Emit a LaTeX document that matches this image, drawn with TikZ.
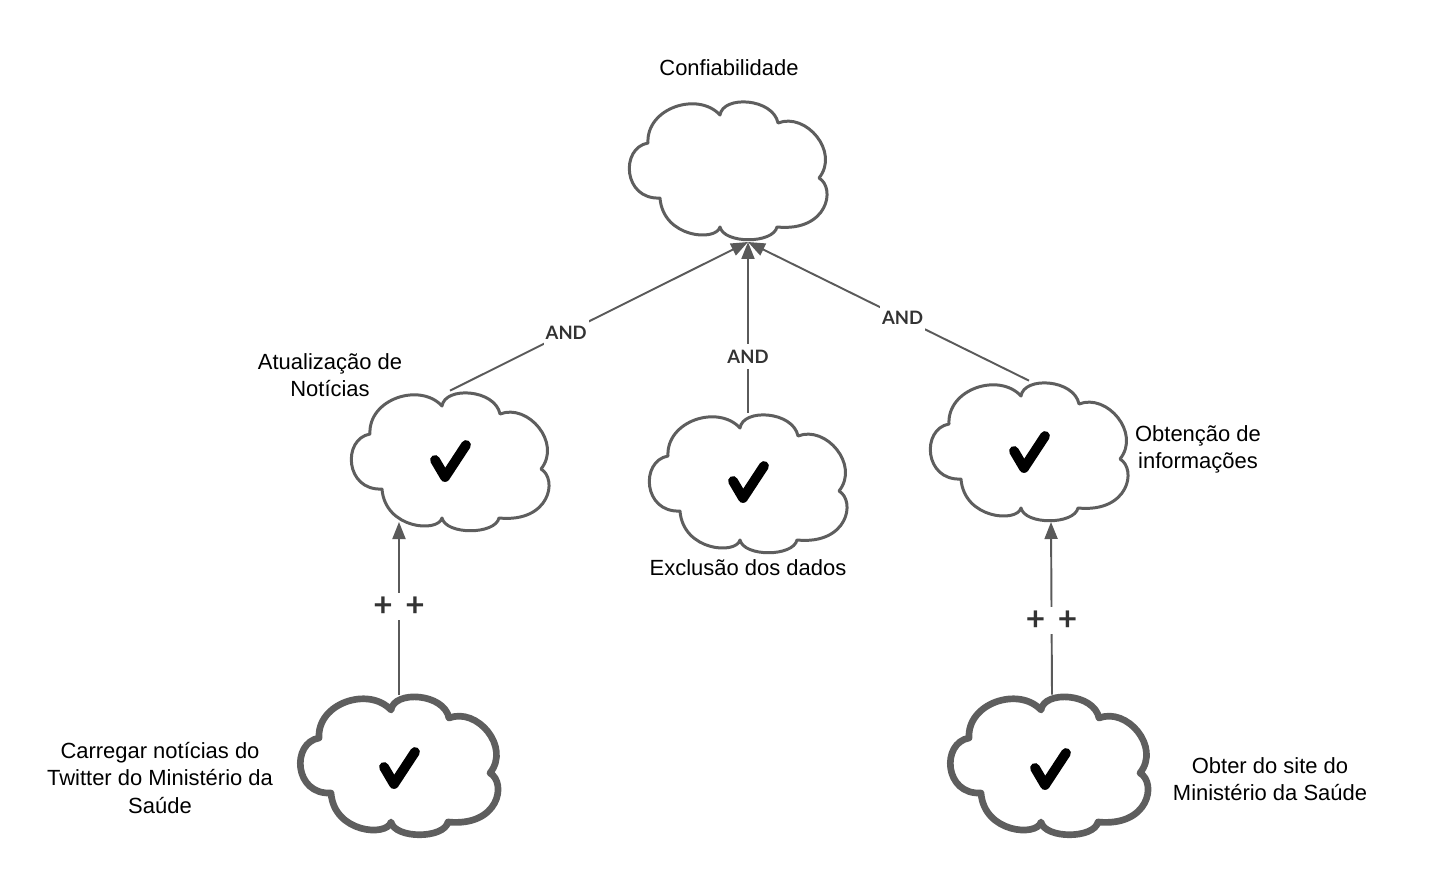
\documentclass[tikz,border=0pt]{standalone}
\usepackage{fontspec}
\setmainfont{Liberation Sans}
\newfontfamily\latofont{Lato}
\usetikzlibrary{arrows.meta,calc}
\definecolor{cgray}{HTML}{5E5E5E}
\definecolor{lgray}{HTML}{5A5A5A}
\definecolor{dgray}{HTML}{333333}
\newcommand{\drawcloud}[2]{%
  \path[#2,shift={(#1.center)}] (-80,-27) .. controls (-82,-62) and (-30,-79) .. (-8,-55)
    .. controls (-5,-75) and (45,-72) .. (50,-47)
    .. controls (78,-58) and (112,-18) .. (91,8)
    .. controls (108,18) and (100,62) .. (49,57)
    .. controls (45,74) and (-4,74) .. (-8,57)
    .. controls (-12,72) and (-65,68) .. (-68,28)
    .. controls (-105,30) and (-108,-22) .. cycle;}
\newcommand{\checkat}[3]{%
  \draw[checkmark,shift={(#1.center)}] ($(-15,-1)+(#2,#3)$) -- ($(-5,16)+(#2,#3)$) -- ($(16,-16)+(#2,#3)$);}
\begin{document}
\begin{tikzpicture}[x=0.02cm,y=-0.02cm,
  cbox/.style={inner sep=0pt, minimum width=4cm, minimum height=2.8cm},
  cloudline/.style={draw=cgray, line width=1.7pt, fill=white, line join=round},
  cloudthick/.style={draw=cgray, line width=3.8pt, fill=white, line join=round},
  conn/.style={draw=lgray, line width=1.1pt},
  arr/.style={-{Triangle[length=0.34cm,width=0.26cm]}},
  andlab/.style={fill=white, text=dgray, font=\latofont\bfseries\fontsize{10.5}{12}\selectfont, inner xsep=1pt, inner ysep=3.5pt},
  pluslab/.style={fill=white, text=dgray, font=\latofont\bfseries\fontsize{19}{20}\selectfont, inner xsep=1pt, inner ysep=2pt},
  txt/.style={font=\fontsize{12.5}{15.4}\selectfont, align=center, text=black},
  checkmark/.style={draw=black, line width=5.6pt, line cap=round, line join=round}
]
\useasboundingbox (0,0) rectangle (1433,885);

% cloud anchor nodes
\node[cbox] (conf) at (728,170) {};
\node[cbox] (atu) at (450,461) {};
\node[cbox] (exc) at (748,483) {};
\node[cbox] (obt) at (1029,451) {};
\node[cbox] (car) at (399,765) {};
\node[cbox] (obs) at (1049,765) {};

\coordinate (conf-in) at ($(conf.center)+(20,72)$);
\coordinate (atu-in) at ($(atu.center)+(-51,61)$);
\coordinate (obt-in) at ($(obt.center)+(22,71)$);

% connectors
\draw[conn,arr] (atu.north) -- node[andlab,pos=0.39] {AND} (conf-in);
\draw[conn,arr] (exc.north) -- node[andlab,pos=0.33] {AND} (conf-in);
\draw[conn,arr] (obt.north) -- node[andlab,pos=0.45] {AND} (conf-in);
\draw[conn,arr] (car.north) -- node[pluslab,pos=0.51] {+\hspace{0.38em}+} (atu-in);
\draw[conn,arr] ($(obs.north)+(3,0)$) -- node[pluslab,pos=0.43] {+\hspace{0.38em}+} (obt-in);

% clouds
\drawcloud{conf}{cloudline}
\drawcloud{atu}{cloudline}
\drawcloud{exc}{cloudline}
\drawcloud{obt}{cloudline}
\drawcloud{car}{cloudthick}
\drawcloud{obs}{cloudthick}

% check marks
\checkat{atu}{0}{0}
\checkat{exc}{0}{-1}
\checkat{obt}{0}{1}
\checkat{car}{0}{3}
\checkat{obs}{1}{4}

% labels
\node[txt] (t-conf) at (729,68) {Confiabilidade};
\node[txt] (t-atu) at (330,375) {Atualização de\\Notícias};
\node[txt] (t-exc) at (748,568) {Exclusão dos dados};
\node[txt] (t-obt) at (1198,449) {Obtenção de\\informações};
\node[txt] (t-car) at (160,778) {Carregar notícias do\\Twitter do Ministério da\\Saúde};
\node[txt] (t-obs) at (1270,779) {Obter do site do\\Ministério da Saúde};
\end{tikzpicture}
\end{document}
